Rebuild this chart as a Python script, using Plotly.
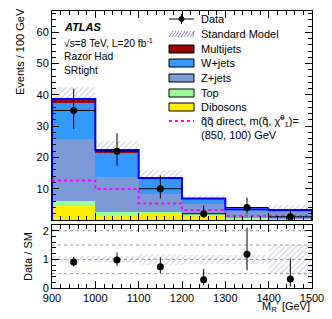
import plotly.graph_objects as go
import numpy as np

# ---------------- data ----------------
bin_edges = [900, 1000, 1100, 1200, 1300, 1400, 1500]
bin_centers = [950, 1050, 1150, 1250, 1350, 1450]

dibosons = [4.6, 1.6, 2.1, 1.9, 0.3, 0.2]
top = [1.4, 1.0, 0.3, 0.2, 0.4, 0.2]
zjets = [19.9, 11.2, 5.9, 2.9, 2.2, 2.2]
wjets = [11.5, 7.7, 5.0, 1.8, 0.5, 0.6]
multijets = [1.3, 0.9, 0.1, 0.1, 0.0, 0.0]
sm_err = [3.9, 3.0, 2.7, 1.1, 0.5, 1.6]

data = [35, 22, 10, 2, 4, 1]
data_err_up = [6.97, 5.76, 4.26, 2.64, 3.16, 2.30]
data_err_dn = [5.89, 4.66, 3.11, 1.29, 1.91, 0.83]

signal = [12.6, 9.9, 5.3, 3.2, 1.4, 1.3]

main_yticks = [10, 20, 30, 40, 50, 60]
ratio_yticks = [0, 1, 2]
x_ticks = [900, 1000, 1100, 1200, 1300, 1400, 1500]

# ---------------- geometry helpers ----------------
W, H = 332, 319
def px(x):
    return x / W
def py(y):
    return 1 - y / H

FONT = "Liberation Sans, Arial, Helvetica, sans-serif"

fig = go.Figure()

comps = [
    ("Dibosons", dibosons, "#ffee00"),
    ("Top", top, "#99ff99"),
    ("Z+jets", zjets, "#7b9ad6"),
    ("W+jets", wjets, "#3399ff"),
    ("Multijets", multijets, "#990000"),
]
base = np.zeros(len(bin_centers))
for name, vals, col in comps:
    v = np.array(vals)
    fig.add_trace(go.Bar(x=bin_centers, y=v, base=base.copy(), width=100,
                         marker=dict(color=col, line=dict(width=0)),
                         xaxis="x", yaxis="y", showlegend=False, name=name))
    base = base + v
total = base

# SM uncertainty hatch (main)
err = np.array(sm_err)
fig.add_trace(go.Bar(x=bin_centers, y=2 * err, base=total - err, width=100,
                     marker=dict(color="rgba(0,0,0,0)", line=dict(width=0),
                                 pattern=dict(shape="/", fgcolor="rgba(110,110,160,0.75)",
                                              bgcolor="rgba(0,0,0,0)", fillmode="overlay",
                                              size=4, solidity=0.25)),
                     xaxis="x", yaxis="y", showlegend=False))

# total outline (step)
sx, sy = [bin_edges[0]], [0]
for i in range(len(bin_centers)):
    sx += [bin_edges[i], bin_edges[i + 1]]
    sy += [total[i], total[i]]
sx.append(bin_edges[-1]); sy.append(0)
fig.add_trace(go.Scatter(x=sx, y=sy, mode="lines", line=dict(color="#0000ff", width=2),
                         xaxis="x", yaxis="y", showlegend=False))

# signal (dotted step)
gx, gy = [], []
for i in range(len(bin_centers)):
    gx += [bin_edges[i], bin_edges[i + 1]]
    gy += [signal[i], signal[i]]
fig.add_trace(go.Scatter(x=gx, y=gy, mode="lines", line=dict(color="#ff00ff", width=2, dash="dot"),
                         xaxis="x", yaxis="y", showlegend=False))

# data
fig.add_trace(go.Scatter(x=bin_centers, y=data, mode="markers",
                         marker=dict(color="black", size=7),
                         error_y=dict(type="data", array=data_err_up, arrayminus=data_err_dn,
                                      color="black", thickness=1, width=0),
                         error_x=dict(type="constant", value=50, color="black", thickness=1, width=0),
                         xaxis="x", yaxis="y", showlegend=False))

# ---------------- ratio ----------------
d = np.array(data, dtype=float)
ratio = d / total
r_up = np.array(data_err_up) / total
r_dn = np.array(data_err_dn) / total
rel = err / total

for yv in [0.5, 1.0, 1.5, 2.0]:
    fig.add_shape(type="line", xref="x2", yref="y2", x0=900, x1=1500, y0=yv, y1=yv,
                  line=dict(color="#999999", width=1, dash="dot"), layer="below")

fig.add_trace(go.Bar(x=bin_centers, y=2 * rel, base=1 - rel, width=100,
                     marker=dict(color="rgba(0,0,0,0)", line=dict(width=0),
                                 pattern=dict(shape="/", fgcolor="rgba(110,110,160,0.7)",
                                              bgcolor="rgba(0,0,0,0)", fillmode="overlay",
                                              size=4, solidity=0.25)),
                     xaxis="x2", yaxis="y2", showlegend=False))
fig.add_trace(go.Scatter(x=bin_centers, y=ratio, mode="markers",
                         marker=dict(color="black", size=7),
                         error_y=dict(type="data", array=r_up, arrayminus=np.minimum(r_dn, ratio),
                                      color="black", thickness=1, width=0),
                         xaxis="x2", yaxis="y2", showlegend=False))

# ---------------- axes ----------------
xdom = [px(52), px(312)]
axis_common = dict(showline=True, linecolor="black", linewidth=1, mirror="allticks",
                   ticks="inside", tickcolor="black", showgrid=False, zeroline=False,
                   automargin=False,
                   tickfont=dict(family=FONT, size=11, color="black"))

fig.update_layout(
    width=W, height=H, margin=dict(l=0, r=0, t=0, b=0, pad=0),
    paper_bgcolor="white", plot_bgcolor="white",
    barmode="overlay", bargap=0, showlegend=False,
    font=dict(family=FONT, size=11, color="black"),
    xaxis=dict(domain=xdom, range=[900, 1500], anchor="y", tickvals=x_ticks,
               showticklabels=False, ticklen=7,
               minor=dict(dtick=20, tick0=900, ticklen=4, ticks="inside", tickcolor="black"),
               **axis_common),
    yaxis=dict(domain=[py(220), py(11)], range=[0, 66.8], anchor="x", tickvals=main_yticks,
               ticklen=7,
               minor=dict(dtick=2, tick0=0, ticklen=4, ticks="inside", tickcolor="black"),
               **axis_common),
    xaxis2=dict(domain=xdom, range=[900, 1500], anchor="y2", matches="x", tickvals=x_ticks,
                ticklen=7,
                minor=dict(dtick=20, tick0=900, ticklen=4, ticks="inside", tickcolor="black"),
                **axis_common),
    yaxis2=dict(domain=[py(288), py(225)], range=[0, 2.2], anchor="x2", tickvals=ratio_yticks,
                ticklen=7,
                minor=dict(dtick=0.2, tick0=0, ticklen=4, ticks="inside", tickcolor="black"),
                **axis_common),
)

ann = []
def text(x, y, s, size=11, xanchor="left", angle=0, bold=False, italic=False):
    f = dict(family=FONT, size=size, color="black")
    if bold:
        f["weight"] = "bold"
    if italic:
        f["style"] = "italic"
    ann.append(dict(x=px(x), y=py(y), xref="paper", yref="paper", text=s, showarrow=False,
                    xanchor=xanchor, yanchor="middle", font=f, textangle=angle))

text(20, 52, "Events / 100 GeV", size=11, xanchor="center", angle=-90)
text(28, 256, "Data / SM", size=11, xanchor="center", angle=-90)
text(312, 307, "M<sub>R</sub>' [GeV]", size=11, xanchor="right")
text(62, 27, "ATLAS", size=11, bold=True, italic=True)
text(62, 42, "√s=8 TeV, L=20 fb<sup>-1</sup>", size=10.3)
text(62, 56, "Razor Had", size=10.3)
text(62, 70, "SRtight", size=10.3)

# ---------------- legend ----------------
lx0, lx1, tx = 169, 194, 199
rows = [19, 34, 49, 63, 78, 93, 107, 121]
labels = ["Data", "Standard Model", "Multijets", "W+jets", "Z+jets", "Top", "Dibosons",
          "q\u0303q\u0303 direct, m(q\u0303, \u03c7\u0303<sup>0</sup><sub>1</sub>)="]
for r, lab in zip(rows, labels):
    text(tx, r, lab, size=11)
text(tx, 135, "(850, 100) GeV", size=11)

shapes = []
# Data symbol
shapes.append(dict(type="line", xref="paper", yref="paper", x0=px(lx0), x1=px(lx1),
                   y0=py(19), y1=py(19), line=dict(color="black", width=1)))
shapes.append(dict(type="line", xref="paper", yref="paper", x0=px(181.5), x1=px(181.5),
                   y0=py(14), y1=py(24), line=dict(color="black", width=1)))
shapes.append(dict(type="circle", xref="paper", yref="paper", x0=px(179), x1=px(184),
                   y0=py(21.5), y1=py(16.5), fillcolor="black", line=dict(color="black", width=1)))
# SM hatch symbol
for k in range(9):
    xa = lx0 + k * 3
    shapes.append(dict(type="line", xref="paper", yref="paper", x0=px(xa), x1=px(min(xa + 4, lx1)),
                       y0=py(37), y1=py(31), line=dict(color="rgba(110,110,160,0.8)", width=1)))
# colored boxes
box_cols = ["#990000", "#3399ff", "#7b9ad6", "#99ff99", "#ffee00"]
for r, c in zip(rows[2:7], box_cols):
    shapes.append(dict(type="rect", xref="paper", yref="paper", x0=px(lx0), x1=px(lx1),
                       y0=py(r + 4), y1=py(r - 4), fillcolor=c, line=dict(color="black", width=1)))
# signal line
shapes.append(dict(type="line", xref="paper", yref="paper", x0=px(lx0), x1=px(lx1),
                   y0=py(121), y1=py(121), line=dict(color="#ff00ff", width=2, dash="dot")))

for s in shapes:
    fig.add_shape(**s)
fig.update_layout(annotations=ann)

fig.write_html("out.html", config={"displayModeBar": False},
               post_script="document.body.style.margin='0';document.body.style.padding='0';")
